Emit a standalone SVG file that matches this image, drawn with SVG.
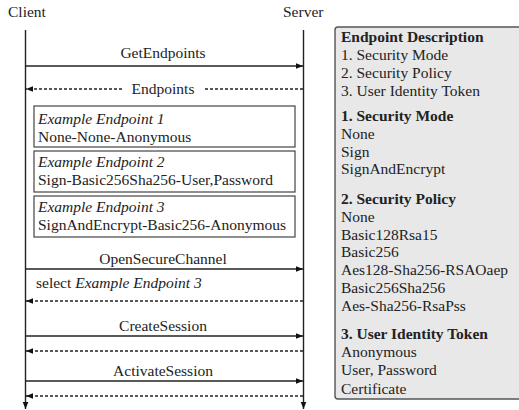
<svg xmlns="http://www.w3.org/2000/svg" width="519" height="410" viewBox="0 0 519 410" font-family="'Liberation Serif', 'DejaVu Serif', serif">
<style>
text{font-family:"Liberation Serif","DejaVu Serif",serif;font-size:15.5px;fill:#222}
.b{font-weight:bold}
.i{font-style:italic}
.m{text-anchor:middle}
.s{stroke:#222;stroke-width:1.4;fill:none}
.d{stroke:#222;stroke-width:1.4;fill:none;stroke-dasharray:3,2}
.box{fill:#fff;stroke:#444;stroke-width:1.2}
</style>
<defs>
<marker id="ahl" viewBox="0 0 10 10" refX="10" refY="5" markerWidth="7" markerHeight="7" orient="auto" markerUnits="userSpaceOnUse"><path d="M0,1L10,5L0,9z" fill="#111"/></marker>
</defs>
<g id="client"><text x="8" y="17">Client</text></g>
<g id="server"><text x="283" y="17">Server</text></g>
<g id="connectors">
<line class="s" x1="25.5" y1="30" x2="25.5" y2="409" marker-end="url(#ahl)"/>
<line class="s" x1="303.5" y1="30" x2="303.5" y2="409" marker-end="url(#ahl)"/>
<line class="s" x1="25.5" y1="66" x2="303" y2="66" marker-end="url(#ahl)"/>
<line class="d" x1="122" y1="89" x2="26" y2="89" marker-end="url(#ahl)"/>
<line class="d" x1="303" y1="89" x2="203" y2="89"/>
<line class="s" x1="25.5" y1="269" x2="303" y2="269" marker-end="url(#ahl)"/>
<line class="d" x1="303" y1="301" x2="26" y2="301" marker-end="url(#ahl)"/>
<line class="s" x1="25.5" y1="336" x2="303" y2="336" marker-end="url(#ahl)"/>
<line class="d" x1="303" y1="351" x2="26" y2="351" marker-end="url(#ahl)"/>
<line class="s" x1="25.5" y1="381" x2="303" y2="381" marker-end="url(#ahl)"/>
<line class="d" x1="303" y1="396" x2="26" y2="396" marker-end="url(#ahl)"/>
</g>
<g id="labels">
<text class="m" x="163" y="58">GetEndpoints</text>
<text class="m" x="163" y="94">Endpoints</text>
<text class="m" x="163" y="264">OpenSecureChannel</text>
<text x="36" y="288">select <tspan class="i">Example Endpoint 3</tspan></text>
<text class="m" x="163" y="331">CreateSession</text>
<text class="m" x="163" y="376">ActivateSession</text>
</g>
<g id="endpoint1">
<rect class="box" x="34" y="106" width="261" height="41"/>
<text class="i" x="38" y="124">Example Endpoint 1</text>
<text x="38" y="142">None-None-Anonymous</text>
</g>
<g id="endpoint2">
<rect class="box" x="34" y="151" width="261" height="41"/>
<text class="i" x="38" y="167">Example Endpoint 2</text>
<text x="38" y="185">Sign-Basic256Sha256-User,Password</text>
</g>
<g id="endpoint3">
<rect class="box" x="34" y="196" width="261" height="41"/>
<text class="i" x="38" y="212">Example Endpoint 3</text>
<text x="38" y="230">SignAndEncrypt-Basic256-Anonymous</text>
</g>
<g id="description">
<rect x="335" y="27" width="195" height="372" rx="3" fill="#e8e8e8" stroke="#555" stroke-width="1.4"/>
<text class="b" x="341" y="42">Endpoint Description</text>
<text x="341" y="60">1. Security Mode</text>
<text x="341" y="78">2. Security Policy</text>
<text x="341" y="96">3. User Identity Token</text>
<text class="b" x="341" y="121">1. Security Mode</text>
<text x="341" y="139">None</text>
<text x="341" y="157">Sign</text>
<text x="341" y="174">SignAndEncrypt</text>
<text class="b" x="341" y="204">2. Security Policy</text>
<text x="341" y="222">None</text>
<text x="341" y="240">Basic128Rsa15</text>
<text x="341" y="257">Basic256</text>
<text x="341" y="275">Aes128-Sha256-RSAOaep</text>
<text x="341" y="293">Basic256Sha256</text>
<text x="341" y="311">Aes-Sha256-RsaPss</text>
<text class="b" x="341" y="339">3. User Identity Token</text>
<text x="341" y="357">Anonymous</text>
<text x="341" y="375">User, Password</text>
<text x="341" y="394">Certificate</text>
</g>
</svg>
